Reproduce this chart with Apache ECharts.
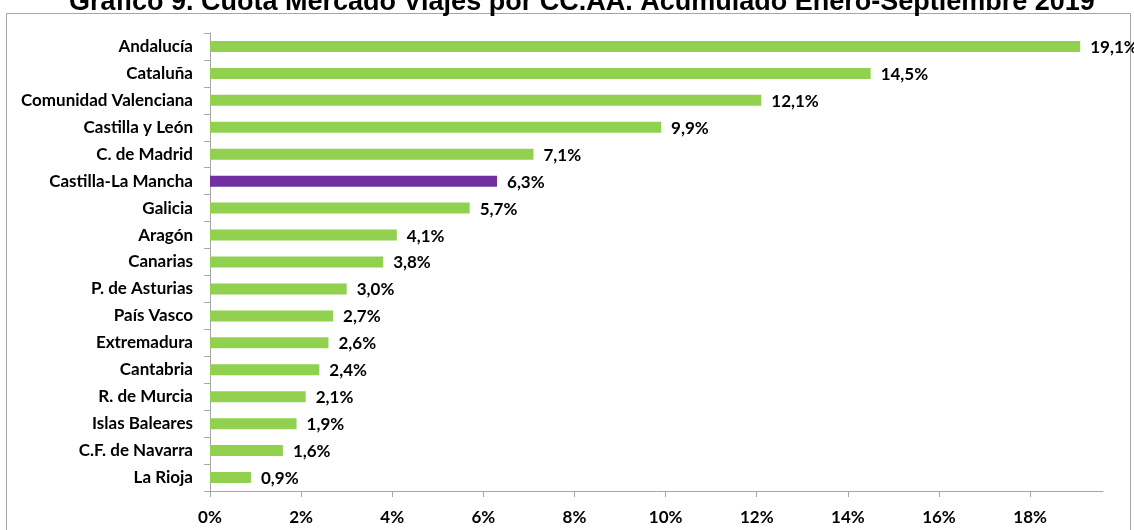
<!DOCTYPE html>
<html><head><meta charset="utf-8">
<script src="https://cdn.jsdelivr.net/npm/echarts@6/dist/echarts.min.js"></script>
<style>html,body{margin:0;padding:0;background:#fff}#c{width:1134px;height:530px}</style>
</head><body><div id="c"></div>
<script>
const categories = ["Andalucía","Cataluña","Comunidad Valenciana","Castilla y León","C. de Madrid","Castilla-La Mancha","Galicia","Aragón","Canarias","P. de Asturias","País Vasco","Extremadura","Cantabria","R. de Murcia","Islas Baleares","C.F. de Navarra","La Rioja"];
const values = [19.1,14.5,12.1,9.9,7.1,6.3,5.7,4.1,3.8,3.0,2.7,2.6,2.4,2.1,1.9,1.6,0.9];
const highlight = "Castilla-La Mancha";
const titleText = "Gráfico 9. Cuota Mercado Viajes por CC.AA. Acumulado Enero-Septiembre 2019";

const chart = echarts.init(document.getElementById('c'));
const font = 'Lato, "Open Sans", sans-serif';
chart.setOption({
  animation:false,
  title:{text:titleText,left:64,top:-16,textStyle:{fontFamily:'"Liberation Sans", Arial, sans-serif',fontWeight:'bold',fontSize:27,color:'#000'}},
  graphic:[{type:'rect',shape:{x:6.5,y:13.5,width:1124,height:530},style:{fill:'none',stroke:'#a6a6a6',lineWidth:1},silent:true,z:-1}],
  grid:{left:210,right:31,top:33,bottom:39},
  xAxis:{type:'value',min:0,max:19.6,interval:2,
    axisLine:{show:true,lineStyle:{color:'#a6a6a6'}},
    axisTick:{show:true,length:6,lineStyle:{color:'#a6a6a6'}},
    splitLine:{show:false},
    axisLabel:{showMaxLabel:false,margin:18,fontFamily:font,fontWeight:'bold',fontSize:17,color:'#000',formatter:v=>v+'%'}},
  yAxis:{type:'category',data:categories,inverse:true,
    axisLine:{show:true,lineStyle:{color:'#a6a6a6'}},
    axisTick:{show:true,length:6,lineStyle:{color:'#a6a6a6'}},
    axisLabel:{margin:17,fontFamily:font,fontWeight:'bold',fontSize:17,color:'#000'}},
  series:[{type:'bar',barWidth:11,
    data:values.map((v,i)=>({value:v,itemStyle:{color:categories[i]===highlight?'#7030A0':'#92D050'}})),
    label:{show:true,position:'right',distance:10,offset:[0,1],fontFamily:font,fontWeight:'bold',fontSize:17,color:'#000',
      formatter:p=>p.value.toFixed(1).replace('.',',')+'%'}}]
});
</script></body></html>
